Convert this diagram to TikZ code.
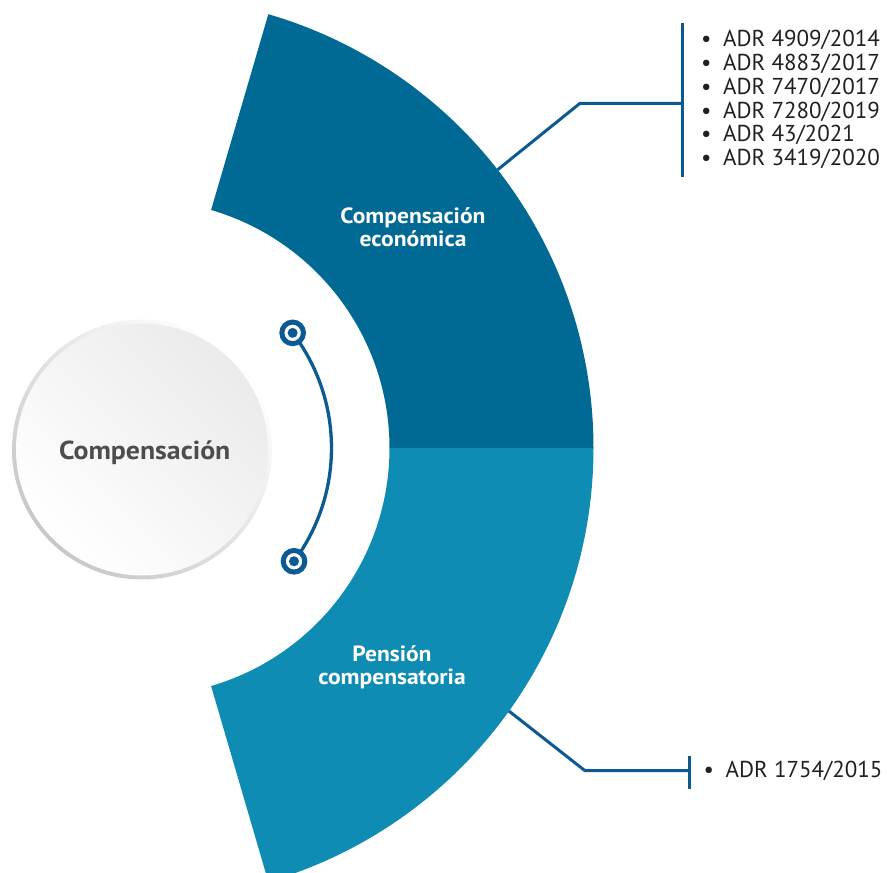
\documentclass[tikz,border=0pt]{standalone}
\usepackage{fontspec}
\setmainfont{PT Sans}[BoldFeatures={FakeStretch=1.07}]
\usetikzlibrary{positioning,backgrounds}

\definecolor{econblue}{HTML}{006A95}
\definecolor{pensblue}{HTML}{0F8CB4}
\definecolor{linkblue}{HTML}{0B5A94}
\definecolor{listgray}{HTML}{231F20}
\definecolor{titlegray}{HTML}{4D4D4F}

\newcommand{\itm}{\makebox[22pt][l]{\textbullet}}

\begin{document}
\begin{tikzpicture}[
  x=1pt, y=1pt,
  seclbl/.style={text=white, font=\fontsize{22}{22.7}\selectfont\bfseries,
                 align=center, inner sep=0pt},
  lst/.style={text=listgray, font=\fontsize{23}{23.8}\selectfont,
              align=left, inner sep=0pt, anchor=base west},
  link/.style={draw=linkblue, line width=3pt},
  knob/.style={circle, draw=linkblue, fill=white, line width=5pt,
               minimum size=21.6pt, inner sep=0pt},
]

% ---------------- Frame ----------------
\useasboundingbox (-141.5,-425) rectangle (745.5,448);
\clip (-141.5,-425) rectangle (745.5,448);

% ---------------- Ring sectors ----------------
\fill[econblue] (0:248) -- (0:452) arc[start angle=0, end angle=73.7, radius=452pt]
  -- (73.7:248) arc[start angle=73.7, end angle=0, radius=248pt] -- cycle;
\fill[pensblue] (0:248) -- (0:452) arc[start angle=0, end angle=-73.7, radius=452pt]
  -- (-73.7:248) arc[start angle=-73.7, end angle=0, radius=248pt] -- cycle;

\node[seclbl] (econ) at (271.5,221)  {Compensación\\económica};
\node[seclbl] (pens) at (250.5,-219) {Pensión\\compensatoria};

% ---------------- Centre disc ----------------
\shade[top color=white, bottom color=black!22, shading angle=-45] (0.5,-1.5) circle[radius=130pt];
\shade[top color=black!8, bottom color=white, shading angle=-45] (0.5,-1.5) circle[radius=126pt];
\node[font=\fontsize{26}{30}\selectfont\bfseries, text=titlegray] (comp) at (3.2,-4.5) {Compensación};

% ---------------- Knobs on the inner arc ----------------
\node[knob] (ktop) at (37.3:190)  {};
\node[knob] (kbot) at (-36.6:190) {};
\fill[linkblue] (ktop) circle[radius=5pt];
\fill[linkblue] (kbot) circle[radius=5pt];
\begin{scope}[on background layer]
  \draw[linkblue, line width=3.3pt] (ktop.center) arc[start angle=37.3, end angle=-36.6, radius=190pt];
\end{scope}

% ---------------- Callout: economic compensation ----------------
\coordinate (econ-tip)  at (38:452);
\coordinate (econ-bend) at (438.5,344.7);
\coordinate (econ-bar)  at (541.2,344.7);
\draw[link] (econ-tip) -- (econ-bend) -- (econ-bar);
\draw[link] (econ-bar) ++(0,80) -- ++(0,-153.4);
% base of a multi-line node sits on its last line
\node[lst] (econ-list) at (559.5,282.3) {\itm ADR 4909/2014\\ \itm ADR 4883/2017\\ \itm ADR 7470/2017\\
  \itm ADR 7280/2019\\ \itm ADR 43/2021\\ \itm ADR 3419/2020};

% ---------------- Callout: compensatory pension ----------------
\coordinate (pens-tip)  at (-35.6:452);
\coordinate (pens-bend) at (443.5,-322.7);
\coordinate (pens-bar)  at (547.5,-322.7);
\draw[link] (pens-tip) -- (pens-bend) -- (pens-bar);
\draw[link] (pens-bar) ++(0,14.7) -- ++(0,-33.3);
\node[lst] (pens-list) at (562,-329.3) {\itm ADR 1754/2015};

\end{tikzpicture}
\end{document}
